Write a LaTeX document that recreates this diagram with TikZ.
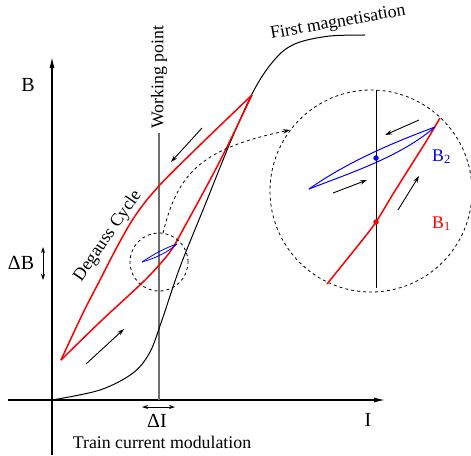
\documentclass[tikz,border=0pt]{standalone}
\usepackage{fontspec}
\setmainfont{Liberation Serif}
\usepackage{tikz}
\usetikzlibrary{
  arrows.meta,
  calc
}
\usepackage{xcolor}
\definecolor{loopred}  {RGB}{255,   0,   0}
\definecolor{minorblue}{RGB}{  0,   0, 255}
\definecolor{wpgray}   {RGB}{110, 110, 110}
\tikzset{
  axisline/.style={
    line width=1.2pt, -{Latex[length=11pt, width=5pt]}
  },
  magcurve/.style={
    line width=1pt, black
  },
  degauss/.style={
    line width=1.5pt, loopred, line join=round
  },
  minorloop/.style={
    line width=#1, minorblue
  },
  zoomring/.style={
    circle, draw, dashed, line width=0.8pt,
    inner sep=0pt, minimum size=#1
  },
  flowarrow/.style={
    line width=0.9pt, -{Stealth[length=7pt, width=4.5pt]}
  },
  deltaarrow/.style={
    line width=0.8pt,
    {Stealth[length=6pt, width=4pt]}-{Stealth[length=6pt, width=4pt]}
  },
  marker/.style={
    circle, fill=#1, inner sep=0pt, minimum size=5.5pt
  },
  lbl/.style={
    font=\fontsize{17.8}{20}\selectfont, inner sep=0pt
  },
  axlbl/.style={
    font=\fontsize{20}{22}\selectfont, inner sep=0pt
  },
}

\begin{document}
\begin{tikzpicture}[x=1pt, y=-1pt]
\useasboundingbox (0,0) rectangle (471,455);

% ── Axes ──────────────────────────────────────────────────────────────────────
\coordinate (O)    at (52,400);
\coordinate (iend) at (385,400);
\coordinate (bend) at (52,57);
\draw[axisline] (8,400) -- (iend);
\draw[axisline] (52,455) -- (bend);
\node[axlbl] (blbl) at (28,85)  {B};
\node[axlbl] (ilbl) at (368,420) {I};

% ── Working point ─────────────────────────────────────────────────────────────
\node[lbl, rotate=90, anchor=west] (wplbl) at (159,129) {Working point};
\coordinate (wptop) at (159,133);
\coordinate (wpbot) at (159,400);
\draw[wpgray, line width=1.2pt] (wptop) -- (wpbot);

% ── First magnetisation ───────────────────────────────────────────────────────
\draw[magcurve] plot[smooth, tension=0.55] coordinates {
  (52,400) (100,390) (133,373) (150,352) (162,320) (180,267) (205,205)
  (230,143) (250,98) (265,72) (282,52) (300,42) (330,36) (365,35)
};
\node[lbl, rotate=10] (fmlbl) at (338,23) {First magnetisation};

% ── Degauss cycle ─────────────────────────────────────────────────────────────
\draw[degauss] plot[smooth, tension=0.55] coordinates {
  (61,360) (83,313) (100,280) (117,247) (135,216) (158,187) (200,145) (252,95)
};
\draw[degauss] plot[smooth, tension=0.55] coordinates {
  (61,360) (100,322) (142,283) (160,264) (172,249) (185,226) (210,180)
  (227,147) (252,95)
};
\node[lbl, rotate=55.5] (dclbl) at (108,236) {Degauss Cycle};

\draw[flowarrow] (202,128) -- (171,162);
\draw[flowarrow] (86,364) -- (124,329);

% ── Small zoom region ─────────────────────────────────────────────────────────
\node[zoomring=58pt] (zsmall) at (159,262) {};
\draw[minorloop=0.8pt] (142,262) .. controls (154,254) and (165,248) .. (177,244);
\draw[minorloop=0.8pt] (142,262) .. controls (156,258) and (168,252) .. (177,244);

% ── Magnified view ────────────────────────────────────────────────────────────
\node[zoomring=202pt] (zbig) at (371,191) {};
\draw[dashed, line width=0.8pt, -{Stealth[length=7pt, width=4.5pt]}]
  (zsmall.82) .. controls (178,170) and (205,148) .. (zbig.143);

\draw[black, line width=1pt] (376,90) -- (376,288);
\draw[degauss] plot[smooth, tension=0.55] coordinates {
  (327,284) (360,243) (376,222) (393,194) (410,167) (427,140) (440,118)
};
\draw[minorloop=1pt] (309,189) .. controls (350,160) and (400,140) .. (435,127);
\draw[minorloop=1pt] (309,189) .. controls (350,173) and (400,157) .. (435,127);

\node[marker=loopred]   (bone) at (376,222) {};
\node[marker=minorblue] (btwo) at (376,158) {};
\node[lbl, loopred,   anchor=base west] (bonelbl) at (432,228) {B\textsubscript{1}};
\node[lbl, minorblue, anchor=base west] (btwolbl) at (432,161) {B\textsubscript{2}};

\draw[flowarrow] (419,120) -- (385,135);
\draw[flowarrow] (333,193) -- (367,180);
\draw[flowarrow] (398,210) -- (419,176);

% ── Modulation ranges ─────────────────────────────────────────────────────────
\draw[deltaarrow] (43,247) -- (43,280);
\node[axlbl] (dblbl) at (21,263) {ΔB};
\draw[deltaarrow] (142,407) -- (175,407);
\node[axlbl] (dilbl) at (157,421) {ΔI};
\node[lbl] (tcmlbl) at (162,442) {Train current modulation};

\end{tikzpicture}
\end{document}
